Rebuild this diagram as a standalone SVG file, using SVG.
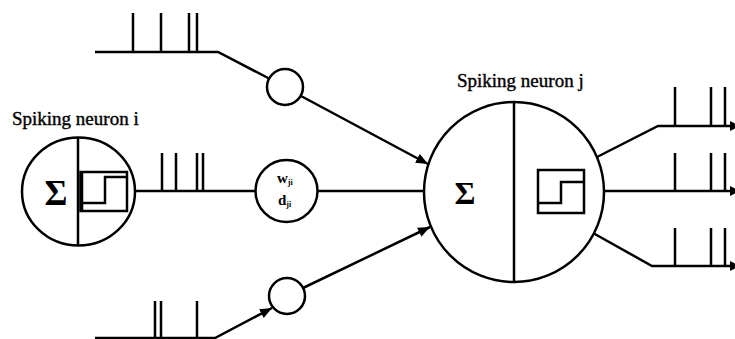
<svg xmlns="http://www.w3.org/2000/svg" width="735" height="339" viewBox="0 0 735 339">
<defs>
<marker id="ah" viewBox="0 0 12 10" refX="12" refY="5" markerWidth="12" markerHeight="10" markerUnits="userSpaceOnUse" orient="auto">
<path d="M0,0 L12,5 L0,10 Z" fill="#000"/>
</marker>
<marker id="ahs" viewBox="0 0 10 10" refX="10" refY="5" markerWidth="10" markerHeight="10" markerUnits="userSpaceOnUse" orient="auto">
<path d="M0,0 L10,5 L0,10 Z" fill="#000"/>
</marker>
</defs>
<style>
.ln{stroke:#000;stroke-width:2.5;fill:none}
.nd{stroke:#000;stroke-width:2.5;fill:#fff}
.lbl{font-family:"Liberation Serif","Times New Roman",serif;font-size:19px;fill:#000;stroke:#000;stroke-width:0.4}
.sig{font-family:"Liberation Serif","Times New Roman",serif;font-weight:bold;fill:#000;text-anchor:middle}
.wd{font-family:"Liberation Serif","Times New Roman",serif;font-weight:bold;font-size:15px;fill:#000}
.sub{font-size:8px}
</style>
<rect width="735" height="339" fill="#fff"/>
<g id="connectors">
<path class="ln" d="M135,191 H256 M162,191 V153 M176,191 V153 M197,191 V153 M203,191 V153"/>
<path class="ln" d="M317,191 H424"/>
<path class="ln" d="M95,52 H218 L270,79 M133,52 V13 M161,52 V13 M189,52 V13 M197,52 V13"/>
<path class="ln" d="M301,96 L428,164" marker-end="url(#ah)"/>
<path class="ln" d="M95,338 H215 L272,308" marker-end="url(#ah)"/>
<path class="ln" d="M155,338 V301 M161,338 V301 M197,338 V301"/>
<path class="ln" d="M303,288 L430,227" marker-end="url(#ah)"/>
<path class="ln" d="M597,157 L658,126 H740" marker-end="url(#ahs)"/>
<path class="ln" d="M603,191 H740" marker-end="url(#ahs)"/>
<path class="ln" d="M593,233 L652,266 H740" marker-end="url(#ahs)"/>
<path class="ln" d="M675,126 V87 M711,126 V87 M725,126 V87 M675,191 V153 M711,191 V153 M725,191 V153 M675,266 V228 M711,266 V228 M725,266 V228"/>
</g>
<g id="neuron-i">
<text class="lbl" x="12" y="125">Spiking neuron i</text>
<ellipse class="nd" cx="78.5" cy="191.5" rx="56.5" ry="54"/>
<line class="ln" x1="78" y1="137.5" x2="78" y2="245.5"/>
<text class="sig" x="56" y="205" font-size="35">Σ</text>
<rect class="ln" x="80.5" y="172" width="46.5" height="39"/>
<line class="ln" x1="82" y1="171" x2="82" y2="212" stroke-width="4"/>
<path class="ln" d="M83,203 H105 V177 H127"/>
</g>
<g id="synapse-wd">
<circle class="nd" cx="286.5" cy="191" r="31"/>
<text class="wd" x="277" y="183">w<tspan class="sub" dy="2">ji</tspan></text>
<text class="wd" x="278" y="205">d<tspan class="sub" dy="2">ji</tspan></text>
</g>
<g id="synapse-top">
<circle class="nd" cx="285" cy="87" r="18"/>
</g>
<g id="synapse-bottom">
<circle class="nd" cx="287" cy="296" r="18"/>
</g>
<g id="neuron-j">
<text class="lbl" x="457" y="87">Spiking neuron j</text>
<circle class="nd" cx="514" cy="192" r="90"/>
<line class="ln" x1="514" y1="102" x2="514" y2="282"/>
<text class="sig" x="465" y="204" font-size="32">Σ</text>
<rect class="ln" x="538" y="170" width="46" height="43"/>
<path class="ln" d="M538,203 H561 V182 H584"/>
</g>
</svg>
